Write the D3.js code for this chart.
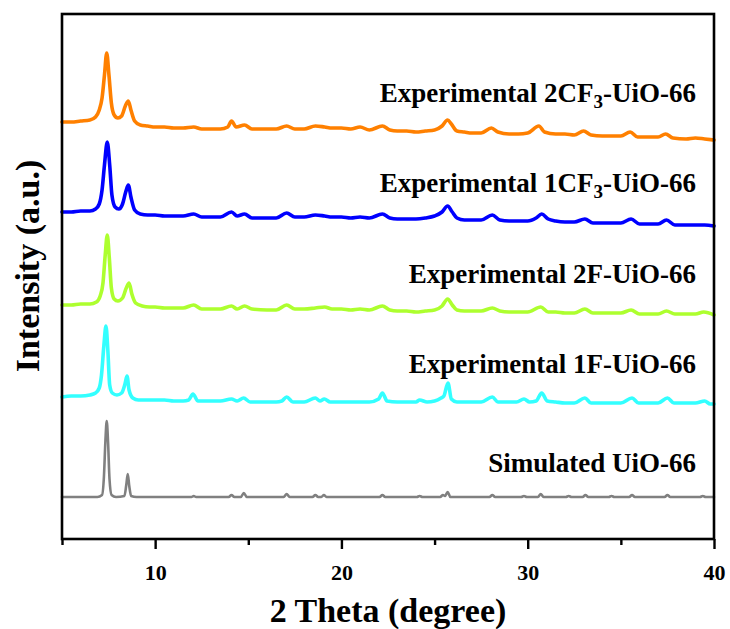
<!DOCTYPE html>
<html>
<head>
<meta charset="utf-8">
<script src="https://cdn.jsdelivr.net/npm/d3@7/dist/d3.min.js"></script>
<style>
  html, body { margin: 0; padding: 0; background: #fff; }
  svg { display: block; }
  text { font-family: "Liberation Serif", "Times New Roman", serif; font-weight: bold; fill: #000; }
</style>
</head>
<body>
<svg id="chart" width="730" height="629"></svg>
<script>
// ---- axis ticks (2θ, degrees) ----
const majorTicks = [10, 20, 30, 40];
const minorTicks = [5, 15, 25, 35];

// ---- patterns: [2θ, intensity above each trace's own baseline] ----
const simulatedUiO66 = [
  [5.0,0],[6.9,0],[7.15,2],[7.25,20],[7.33,56],[7.40,76],[7.47,56],[7.55,18],[7.66,2],[7.9,0],
  [8.35,1],[8.45,12],[8.53,23],[8.61,11],[8.71,1],[9.0,0],
  [11.95,0],[12.07,1],[12.2,0],
  [13.95,0],[14.1,2],[14.25,0],
  [14.6,0],[14.76,4],[14.92,0],
  [16.9,0],[17.06,3],[17.22,0],
  [18.45,0],[18.6,2],[18.75,0],
  [18.92,0],[19.06,2],[19.2,0],
  [22.05,0],[22.2,2],[22.35,0],
  [24.05,0],[24.2,1],[24.35,0],
  [25.3,0],[25.45,2],[25.56,1],[25.7,5],[25.85,0],
  [27.95,0],[28.1,2],[28.25,0],
  [29.65,0],[29.8,1],[29.95,0],
  [30.55,0],[30.7,3],[30.85,0],
  [32.05,0],[32.2,1],[32.35,0],
  [32.95,0],[33.1,2],[33.25,0],
  [34.35,0],[34.5,1],[34.65,0],
  [35.45,0],[35.6,2],[35.75,0],
  [37.35,0],[37.5,2],[37.65,0],
  [39.25,0],[39.4,1],[39.55,0],
  [40.0,0]
];

const exp1F = [
  [5.0,7],[5.5,8],[6.0,8],[6.5,9],[6.8,11],[7.0,16],[7.12,29],[7.25,59],[7.36,78],[7.46,54],
  [7.56,19],[7.7,11],[7.95,9],[8.2,11],[8.38,20],[8.49,28],[8.6,14],[8.8,6],[9.1,4],[9.5,4],
  [10.0,4],[10.5,4],[11.0,3],[11.5,3],[11.8,4],[12.03,10],[12.3,3],[13.0,3],[13.5,3],[14.1,5],
  [14.4,3],[14.75,6],[15.1,2],[16.0,2],[16.5,2],[16.8,3],[17.06,7],[17.4,2],[18.0,2],[18.6,6],
  [18.85,3],[19.08,5],[19.4,2],[20.0,2],[20.5,2],[21.0,2],[21.5,2],[22.0,5],[22.2,11],[22.45,3],
  [23.0,2],[23.5,2],[24.0,2],[24.2,4],[24.6,2],[25.0,3],[25.35,6],[25.5,8],[25.72,21],[25.9,5],
  [26.2,2],[26.6,2],[27.0,2],[27.5,2],[28.1,7],[28.4,2],[29.0,2],[29.4,2],[29.8,5],[30.1,2],
  [30.45,3],[30.75,11],[31.05,3],[31.5,2],[32.0,1],[32.5,1],[33.07,6],[33.4,1],[34.0,1],[34.5,1],
  [35.0,1],[35.6,6],[35.95,1],[36.5,1],[37.0,1],[37.5,6],[37.85,1],[38.5,1],[39.0,1],[39.5,3],
  [39.8,0],[40.0,0]
];

const exp2F = [
  [5.0,10],[5.5,10],[6.0,11],[6.5,11],[6.85,13],[7.05,19],[7.2,32],[7.32,60],[7.43,80],[7.54,57],
  [7.65,27],[7.8,16],[8.0,14],[8.25,17],[8.45,27],[8.6,32],[8.75,21],[8.95,12],[9.3,9],[9.7,8],
  [10.0,8],[10.5,7],[11.0,7],[11.5,7],[12.07,10],[12.5,6],[13.0,6],[13.5,6],[14.1,9],[14.4,6],
  [14.8,9],[15.2,6],[16.0,5],[16.5,5],[17.06,10],[17.5,6],[18.0,6],[18.6,7],[19.1,8],[19.5,6],
  [20.0,6],[20.5,5],[21.0,6],[21.5,5],[22.2,9],[22.6,5],[23.0,4],[23.5,4],[24.0,3],[24.5,4],
  [25.0,5],[25.4,9],[25.7,16],[25.95,10],[26.2,5],[26.6,4],[27.0,4],[27.5,4],[28.1,7],[28.5,4],
  [29.0,3],[29.5,3],[30.0,3],[30.7,8],[31.1,3],[31.5,3],[32.0,2],[32.5,2],[33.07,6],[33.5,2],
  [34.0,2],[34.5,2],[35.0,2],[35.55,5],[36.0,1],[36.5,1],[37.0,1],[37.45,4],[37.9,1],[38.5,1],
  [39.0,1],[39.45,3],[40.0,0]
];

const exp1CF3 = [
  [5.0,14],[5.5,14],[6.0,15],[6.5,15],[6.8,17],[7.0,22],[7.15,36],[7.28,61],[7.43,84],[7.56,61],
  [7.68,31],[7.85,19],[8.05,17],[8.25,22],[8.42,34],[8.56,41],[8.7,29],[8.9,16],[9.2,12],[9.6,11],
  [10.0,11],[10.5,10],[11.0,10],[11.5,10],[12.07,12],[12.5,9],[13.0,9],[13.5,9],[14.1,14],[14.4,10],
  [14.8,12],[15.2,8],[16.0,8],[16.5,8],[17.06,13],[17.5,9],[18.0,9],[18.6,11],[19.1,10],[19.5,9],
  [20.0,9],[20.5,8],[21.0,9],[21.5,8],[22.2,12],[22.6,8],[23.0,7],[23.5,7],[24.0,7],[24.5,8],
  [25.0,10],[25.4,14],[25.7,20],[25.95,14],[26.2,8],[26.6,6],[27.0,6],[27.5,6],[28.1,11],[28.5,6],
  [29.0,5],[29.5,5],[30.0,5],[30.45,8],[30.75,12],[31.1,7],[31.5,5],[32.0,4],[32.5,4],[33.07,7],
  [33.5,3],[34.0,3],[34.5,3],[35.0,3],[35.55,7],[36.0,2],[36.5,2],[37.0,2],[37.45,6],[37.9,1],
  [38.5,1],[39.0,1],[39.5,1],[40.0,0]
];

const exp2CF3 = [
  [5.0,18],[5.5,18],[6.0,19],[6.5,20],[6.8,23],[7.0,30],[7.15,42],[7.28,65],[7.40,87],[7.52,65],
  [7.65,37],[7.8,25],[8.0,22],[8.2,24],[8.4,34],[8.56,39],[8.7,30],[8.9,19],[9.2,15],[9.6,14],
  [10.0,13],[10.5,13],[11.0,12],[11.5,12],[12.07,13],[12.5,11],[13.0,11],[13.5,11],[13.9,13],[14.1,19],
  [14.35,13],[14.8,15],[15.2,11],[16.0,11],[16.5,11],[17.06,14],[17.5,11],[18.0,11],[18.6,14],[19.1,13],
  [19.5,12],[20.0,12],[20.5,11],[21.0,13],[21.5,10],[22.2,14],[22.6,10],[23.0,9],[23.5,9],[24.0,8],
  [24.5,9],[25.0,10],[25.4,14],[25.7,20],[25.9,16],[26.2,9],[26.6,8],[27.0,7],[27.5,7],[28.05,12],
  [28.4,8],[29.0,6],[29.5,6],[30.0,7],[30.6,14],[30.9,8],[31.5,6],[32.0,6],[32.5,5],[33.0,9],
  [33.4,5],[34.0,4],[34.5,4],[35.0,4],[35.5,8],[35.9,3],[36.5,3],[37.0,3],[37.4,6],[37.8,2],
  [38.5,1],[39.0,2],[39.5,1],[40.0,0]
];

// ---- series: name parts (pre, subscript, post), colour, vertical offset ----
const seriesData    = [simulatedUiO66, exp1F, exp2F, exp1CF3, exp2CF3];
const seriesLabels  = [
  ["Simulated UiO-66", "", ""],
  ["Experimental 1F-UiO-66", "", ""],
  ["Experimental 2F-UiO-66", "", ""],
  ["Experimental 1CF", "3", "-UiO-66"],
  ["Experimental 2CF", "3", "-UiO-66"]
];
const seriesColors  = ["#808080", "#33FFFF", "#ADFF2F", "#0000FF", "#FF8000"];
const seriesOffsets = [42, 135, 224, 313, 399];

// ---- layout ----
const W = 730, H = 629;
const plot = { left: 62, top: 14, right: 714, bottom: 539 };
const labelX = 696;
const labelBaselines = [472, 373, 283, 192, 102];

const svg = d3.select("#chart");

const x = d3.scaleLinear().domain([5, 40]).range([plot.left, plot.right]);
const y = d3.scaleLinear().domain([0, 525]).range([plot.bottom, plot.top]);

// traces
const line = d3.line()
  .x(d => x(d[0]))
  .y(d => y(d[1]))
  .curve(d3.curveMonotoneX);

const traces = svg.append("g").attr("class", "traces");
seriesData.forEach((pts, i) => {
  const off = seriesOffsets[i];
  traces.append("path")
    .datum(pts.map(p => [p[0], p[1] + off]))
    .attr("fill", "none")
    .attr("stroke", seriesColors[i])
    .attr("stroke-width", i === 0 ? 2.6 : 3.6)
    .attr("stroke-linejoin", "round")
    .attr("stroke-linecap", "round")
    .attr("d", line);
});

// series labels
const labels = svg.append("g").attr("class", "labels");
seriesLabels.forEach((parts, i) => {
  const t = labels.append("text")
    .attr("x", labelX)
    .attr("y", labelBaselines[i])
    .attr("text-anchor", "end")
    .style("font-size", "27px");
  t.append("tspan").text(parts[0]);
  if (parts[1]) {
    t.append("tspan").attr("dy", 6).style("font-size", "19px").text(parts[1]);
    t.append("tspan").attr("dy", -6).text(parts[2]);
  }
});

// frame
svg.append("rect")
  .attr("x", plot.left).attr("y", plot.top)
  .attr("width", plot.right - plot.left)
  .attr("height", plot.bottom - plot.top)
  .attr("fill", "none")
  .attr("stroke", "#000")
  .attr("stroke-width", 2.6);

// bottom axis: major ticks with labels, minor ticks without
const xAxis = svg.append("g")
  .attr("transform", `translate(0,${plot.bottom})`)
  .call(d3.axisBottom(x).tickValues(majorTicks).tickSize(10).tickPadding(15).tickFormat(d3.format("d")));
xAxis.select(".domain").remove();
xAxis.selectAll(".tick line").attr("stroke", "#000").attr("stroke-width", 2.4);
xAxis.selectAll(".tick text")
  .style("font-family", '"Liberation Serif", "Times New Roman", serif')
  .style("font-weight", "bold")
  .style("font-size", "22px")
  .attr("fill", "#000");

const xMinor = svg.append("g")
  .attr("transform", `translate(0,${plot.bottom})`)
  .call(d3.axisBottom(x).tickValues(minorTicks).tickSize(6).tickFormat(""));
xMinor.select(".domain").remove();
xMinor.selectAll(".tick line").attr("stroke", "#000").attr("stroke-width", 2.4);

// axis titles
svg.append("text")
  .attr("x", (plot.left + plot.right) / 2)
  .attr("y", 622)
  .attr("text-anchor", "middle")
  .style("font-size", "34px")
  .text("2 Theta (degree)");

svg.append("text")
  .attr("transform", "translate(39,266) rotate(-90)")
  .attr("text-anchor", "middle")
  .style("font-size", "34px")
  .text("Intensity (a.u.)");
</script>
</body>
</html>
